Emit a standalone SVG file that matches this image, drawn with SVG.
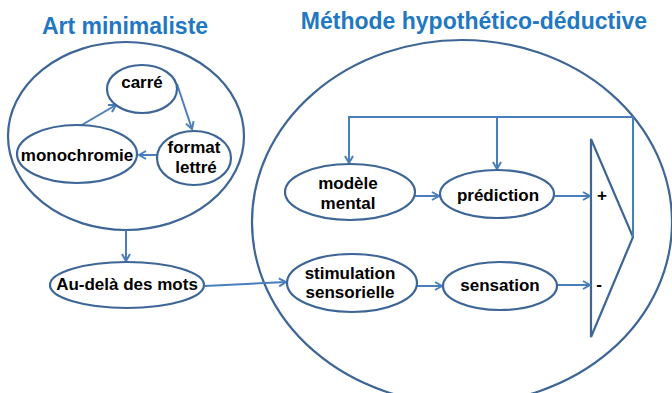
<svg xmlns="http://www.w3.org/2000/svg" width="672" height="393" viewBox="0 0 672 393">
<defs>
<marker id="ah" markerWidth="10" markerHeight="10" refX="8" refY="5" orient="auto" markerUnits="userSpaceOnUse">
<path d="M1,1 L8,5 L1,9" fill="none" stroke="#4A7EBB" stroke-width="2"/>
</marker>
<style>
.e{fill:#fff;stroke:#3D6596;stroke-width:2.2}
.big{fill:none;stroke:#3D6596;stroke-width:2.2}
.t{font-family:"Liberation Sans",Arial,sans-serif;font-weight:bold;font-size:17px;fill:#000;text-anchor:middle}
.h{font-family:"Liberation Sans",Arial,sans-serif;font-weight:bold;font-size:23px;fill:#1F78C1;text-anchor:middle}
.c{fill:none;stroke:#4A7EBB;stroke-width:2}
</style>
</defs>
<rect width="672" height="393" fill="#fff"/>
<text class="h" x="125" y="34">Art minimaliste</text>
<text class="h" x="474" y="29">Méthode hypothético-déductive</text>
<g id="art-minimaliste"><ellipse class="big" cx="126" cy="136" rx="118" ry="94"/></g>
<g id="methode"><ellipse class="big" cx="462" cy="222" rx="210" ry="182"/></g>
<g id="comparateur"><path class="big" d="M591,139 L591,337 L633,237 Z"/>
<text class="t" x="602" y="201">+</text><text class="t" x="599" y="290">-</text></g>
<g id="connectors">
<path class="c" d="M80,126 L116,105" marker-end="url(#ah)"/>
<path class="c" d="M177,84 L192,129" marker-end="url(#ah)"/>
<path class="c" d="M158,155 L139,155" marker-end="url(#ah)"/>
<path class="c" d="M126,230 L126,261" marker-end="url(#ah)"/>
<path class="c" d="M205,286 L286,282" marker-end="url(#ah)"/>
<path class="c" d="M415,196 L439,196" marker-end="url(#ah)"/>
<path class="c" d="M417,286 L442,286" marker-end="url(#ah)"/>
<path class="c" d="M555,196 L590,196" marker-end="url(#ah)"/>
<path class="c" d="M557,285 L590,285" marker-end="url(#ah)"/>
<path class="c" d="M633,237 L633,117 L349,117 L349,163" marker-end="url(#ah)"/>
<path class="c" d="M497,117 L497,169" marker-end="url(#ah)"/>
</g>
<g id="carre"><ellipse class="e" cx="142" cy="89" rx="35" ry="24"/><text class="t" x="142" y="88">carré</text></g>
<g id="monochromie"><ellipse class="e" cx="77" cy="154" rx="60" ry="29"/><text class="t" x="77" y="161">monochromie</text></g>
<g id="format-lettre"><ellipse class="e" cx="194" cy="158" rx="37" ry="27"/><text class="t" x="194" y="153">format</text><text class="t" x="196" y="173">lettré</text></g>
<g id="au-dela"><ellipse class="e" cx="127" cy="285" rx="77" ry="23"/><text class="t" x="127" y="290">Au-delà des mots</text></g>
<g id="modele-mental"><ellipse class="e" cx="350" cy="192" rx="65" ry="28"/><text class="t" x="348" y="189">modèle</text><text class="t" x="348" y="209">mental</text></g>
<g id="prediction"><ellipse class="e" cx="497" cy="194" rx="57" ry="24"/><text class="t" x="498" y="201">prédiction</text></g>
<g id="stimulation"><ellipse class="e" cx="352" cy="283" rx="65" ry="29"/><text class="t" x="350" y="279">stimulation</text><text class="t" x="350" y="298">sensorielle</text></g>
<g id="sensation"><ellipse class="e" cx="500" cy="286" rx="57" ry="24"/><text class="t" x="500" y="291">sensation</text></g>
</svg>
